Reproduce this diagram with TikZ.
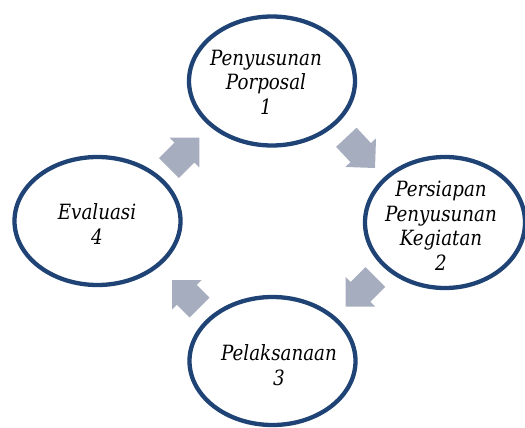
\documentclass[tikz,border=0pt]{standalone}
\usepackage{fontspec}
\usetikzlibrary{shapes.geometric}
\setmainfont{DejaVu Serif}[FakeStretch=0.87]
\definecolor{ringblue}{RGB}{31,67,117}
\definecolor{arrowgray}{RGB}{166,173,190}
\begin{document}
\begin{tikzpicture}[x=1pt,y=-1pt,
  stage/.style={ellipse, draw=ringblue, line width=4.3pt, fill=white,
    minimum width=#1, inner sep=0pt},
  stagetext/.style={align=center, font=\fontsize{21}{24.5}\selectfont\itshape, inner sep=0pt},
  blockarrow/.style={fill=arrowgray, draw=none}]
\useasboundingbox (0,0) rectangle (525,428);
\clip (0,0) rectangle (525,428);
% stages
\node[stage=166pt, minimum height=129pt] (s1) at (272,81) {};
\node[stage=160pt, minimum height=131pt] (s2) at (445,222.5) {};
\node[stage=166pt, minimum height=128pt] (s3) at (272.5,361) {};
\node[stage=166pt, minimum height=128pt] (s4) at (97.5,221) {};
% labels
\node[stagetext] (t1) at (266,82) {Penyusunan\\Porposal\\1};
\node[stagetext] (t2) at (441,226) {Persiapan\\Penyusunan\\Kegiatan\\2};
\node[stagetext] (t3) at (279,365) {Pelaksanaan\\3};
\node[stagetext] (t4) at (97,224) {Evaluasi\\4};
% block arrows (tip at origin, pointing along +x)
\path[blockarrow, shift={(199.3,137.7)}, rotate=45]
  (0,0) -- (-21,21) -- (-21,14) -- (-43,14) -- (-43,-14) -- (-21,-14) -- (-21,-21) -- cycle;
\path[blockarrow, shift={(375,168)}, rotate=-47]
  (0,0) -- (-21,21) -- (-21,14) -- (-42,14) -- (-42,-14) -- (-21,-14) -- (-21,-21) -- cycle;
\path[blockarrow, shift={(345.7,306.7)}, rotate=-135]
  (0,0) -- (-21,21) -- (-21,14) -- (-42,14) -- (-42,-14) -- (-21,-14) -- (-21,-21) -- cycle;
\path[blockarrow, shift={(172,280)}, rotate=135]
  (0,0) -- (-21,21) -- (-21,14) -- (-39,14) -- (-39,-14) -- (-21,-14) -- (-21,-21) -- cycle;
\end{tikzpicture}
\end{document}
